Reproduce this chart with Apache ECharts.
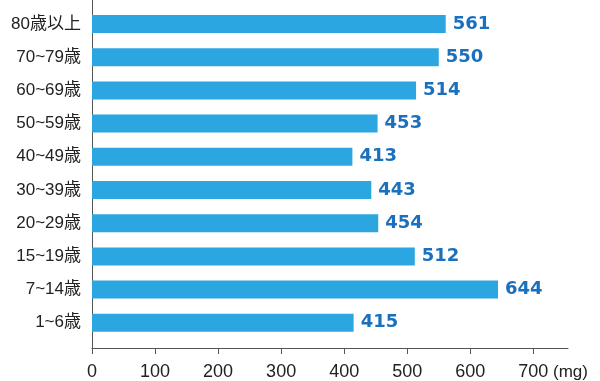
<!DOCTYPE html>
<html><head><meta charset="utf-8">
<script src="https://cdn.jsdelivr.net/npm/echarts@6/dist/echarts.min.js"></script>
<style>html,body{margin:0;padding:0;background:#fff}#c{width:600px;height:381px}</style>
</head><body><div id="c"></div>
<script>
const categories = ['80歳以上','70~79歳','60~69歳','50~59歳','40~49歳','30~39歳','20~29歳','15~19歳','7~14歳','1~6歳'];
const values = [561,550,514,453,413,443,454,512,644,415];
const xTicks = [0,100,200,300,400,500,600,700];
const unitLabel = '(mg)';

const chart = echarts.init(document.getElementById('c'), null, {renderer:'canvas'});
const font = 'Liberation Sans, Arial, Noto Sans CJK JP, sans-serif';
chart.setOption({
  animation:false,
  backgroundColor:'#fff',
  grid:[
    {left:92, right:32, top:7.4, bottom:41.6},
    {left:92, right:32, top:0, bottom:33}
  ],
  xAxis:[
    {gridIndex:0, type:'value', min:0, max:755, show:false},
    {gridIndex:1, type:'value', min:0, max:755,
     axisLine:{show:true, lineStyle:{color:'#555', width:1}},
     axisTick:{show:true, customValues:xTicks, length:6, inside:false, lineStyle:{color:'#555'}},
     axisLabel:{customValues:xTicks, margin:15, fontSize:18, color:'#222', fontFamily:font},
     splitLine:{show:false}}
  ],
  yAxis:[
    {gridIndex:0, type:'category', inverse:true, data:categories,
     axisLine:{show:false}, axisTick:{show:false},
     axisLabel:{margin:11, fontSize:17, color:'#222', fontFamily:font}},
    {gridIndex:1, type:'value', min:0, max:1,
     axisLine:{show:true, lineStyle:{color:'#555', width:1}},
     axisTick:{show:false}, axisLabel:{show:false}, splitLine:{show:false}}
  ],
  graphic:[{type:'text', left:553, top:364, style:{text:unitLabel, font:'17px '+font, fill:'#222'}}],
  series:[{
    type:'bar', xAxisIndex:0, yAxisIndex:0, data:values, barWidth:18,
    itemStyle:{color:'#2ca6e0'},
    label:{show:true, position:'right', distance:7, color:'#1b70bd', fontWeight:'bold', fontSize:18, fontFamily:'DejaVu Sans, sans-serif'}
  }]
});
</script></body></html>
